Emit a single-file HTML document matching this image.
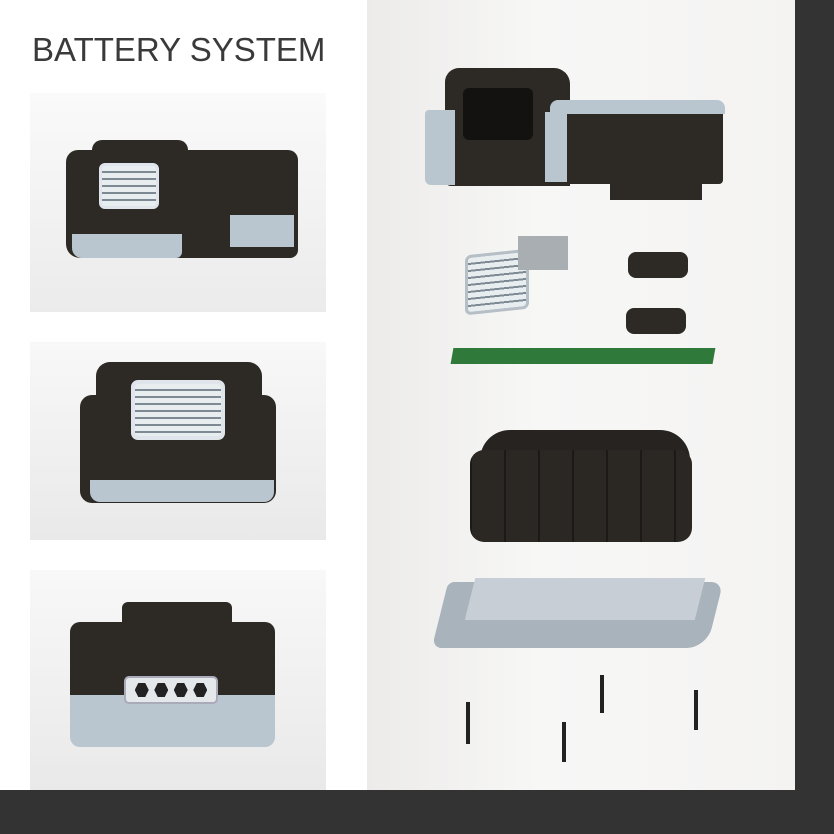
<!DOCTYPE html>
<html><head><meta charset="utf-8"><style>
*{margin:0;padding:0;box-sizing:border-box}
body{width:834px;height:834px;position:relative;background:#fff;overflow:hidden;font-family:"Liberation Sans",sans-serif}
.a{position:absolute}
.dark{background:#2d2a25}
.lb{background:#b9c6d0}
.grill{background:repeating-linear-gradient(#e8edf0 0 5px,#7d8a94 5px 7px)}
</style></head><body>
<div class="a" style="left:795px;top:0;width:39px;height:834px;background:#333"></div>
<div class="a" style="left:0;top:790px;width:834px;height:44px;background:#333"></div>
<div class="a" style="left:367px;top:0;width:428px;height:790px;background:linear-gradient(90deg,#ecebea,#f7f7f6 40%,#f4f3f2)"></div>
<div class="a" style="left:32px;top:31px;font-size:33px;color:#3a3a3a;letter-spacing:0px">BATTERY SYSTEM</div>

<!-- panel 1 -->
<div class="a" style="left:30px;top:93px;width:296px;height:219px;background:linear-gradient(#fafafa,#ebebeb)"></div>
<div class="a dark" style="left:66px;top:150px;width:232px;height:108px;border-radius:12px 10px 8px 14px"></div>
<div class="a dark" style="left:92px;top:140px;width:96px;height:30px;border-radius:10px 10px 0 0"></div>
<div class="a lb" style="left:72px;top:234px;width:110px;height:24px;border-radius:0 0 6px 10px"></div>
<div class="a lb" style="left:230px;top:215px;width:64px;height:32px"></div>
<div class="a grill" style="left:99px;top:163px;width:60px;height:46px;border-radius:6px;border:3px solid #dfe5ea"></div>
<!-- panel 2 -->
<div class="a" style="left:30px;top:342px;width:296px;height:198px;background:linear-gradient(#f8f8f8,#e9e9e9)"></div>
<div class="a dark" style="left:80px;top:395px;width:196px;height:108px;border-radius:12px"></div>
<div class="a dark" style="left:96px;top:362px;width:166px;height:60px;border-radius:14px 14px 0 0"></div>
<div class="a lb" style="left:90px;top:480px;width:184px;height:22px;border-radius:0 0 10px 10px"></div>
<div class="a grill" style="left:131px;top:380px;width:94px;height:60px;border-radius:7px;border:4px solid #dfe5ea"></div>
<!-- panel 3 -->
<div class="a" style="left:30px;top:570px;width:296px;height:220px;background:linear-gradient(#f8f8f8,#e9e9e9)"></div>
<div class="a dark" style="left:122px;top:602px;width:110px;height:30px;border-radius:6px 6px 0 0"></div>
<div class="a dark" style="left:70px;top:622px;width:205px;height:76px;border-radius:10px 10px 0 0"></div>
<div class="a lb" style="left:70px;top:695px;width:205px;height:52px;border-radius:0 0 10px 10px"></div>
<div class="a" style="left:124px;top:676px;width:94px;height:28px;background:#e4e8eb;border:2px solid #aab;border-radius:5px;display:flex;justify-content:space-around;align-items:center;padding:0 6px">
<span style="width:14px;height:14px;background:#222;clip-path:polygon(25% 0,75% 0,100% 50%,75% 100%,25% 100%,0 50%)"></span><span style="width:14px;height:14px;background:#222;clip-path:polygon(25% 0,75% 0,100% 50%,75% 100%,25% 100%,0 50%)"></span><span style="width:14px;height:14px;background:#222;clip-path:polygon(25% 0,75% 0,100% 50%,75% 100%,25% 100%,0 50%)"></span><span style="width:14px;height:14px;background:#222;clip-path:polygon(25% 0,75% 0,100% 50%,75% 100%,25% 100%,0 50%)"></span></div>

<!-- exploded view -->
<div class="a dark" style="left:445px;top:68px;width:125px;height:118px;border-radius:14px 16px 0 6px"></div>
<div class="a" style="left:463px;top:88px;width:70px;height:52px;background:#141210;border-radius:6px"></div>
<div class="a dark" style="left:545px;top:104px;width:178px;height:80px;border-radius:0 6px 4px 0"></div>
<div class="a lb" style="left:425px;top:110px;width:30px;height:75px;border-radius:4px 0 0 6px"></div>
<div class="a lb" style="left:550px;top:100px;width:175px;height:14px;border-radius:8px 8px 0 0"></div>
<div class="a lb" style="left:545px;top:112px;width:22px;height:70px"></div>
<div class="a dark" style="left:610px;top:150px;width:92px;height:50px"></div>
<div class="a grill" style="left:465px;top:252px;width:64px;height:60px;border-radius:6px;border:3px solid #b6bfc6;transform:skewY(-6deg)"></div>
<div class="a" style="left:518px;top:236px;width:50px;height:34px;background:#a9aeb2"></div>
<div class="a dark" style="left:628px;top:252px;width:60px;height:26px;border-radius:8px"></div>
<div class="a dark" style="left:626px;top:308px;width:60px;height:26px;border-radius:8px"></div>
<div class="a" style="left:452px;top:348px;width:262px;height:16px;background:#2f7a3a;transform:skewX(-10deg)"></div>
<div class="a" style="left:480px;top:430px;width:210px;height:100px;background:#262320;border-radius:30px 30px 12px 12px"></div>
<div class="a" style="left:470px;top:450px;width:222px;height:92px;background:repeating-linear-gradient(90deg,#1c1a18 0 2px,#2b2824 2px 34px);border-radius:14px"></div>
<div class="a" style="left:440px;top:582px;width:275px;height:66px;background:#a9b3bc;border-radius:6px 12px 20px 10px;transform:skewX(-14deg)"></div>
<div class="a" style="left:470px;top:578px;width:230px;height:42px;background:#c7ced5;transform:skewX(-14deg)"></div>
<div class="a" style="left:600px;top:675px;width:4px;height:38px;background:#222"></div>
<div class="a" style="left:694px;top:690px;width:4px;height:40px;background:#222"></div>
<div class="a" style="left:466px;top:702px;width:4px;height:42px;background:#222"></div>
<div class="a" style="left:562px;top:722px;width:4px;height:40px;background:#222"></div>
</body></html>
